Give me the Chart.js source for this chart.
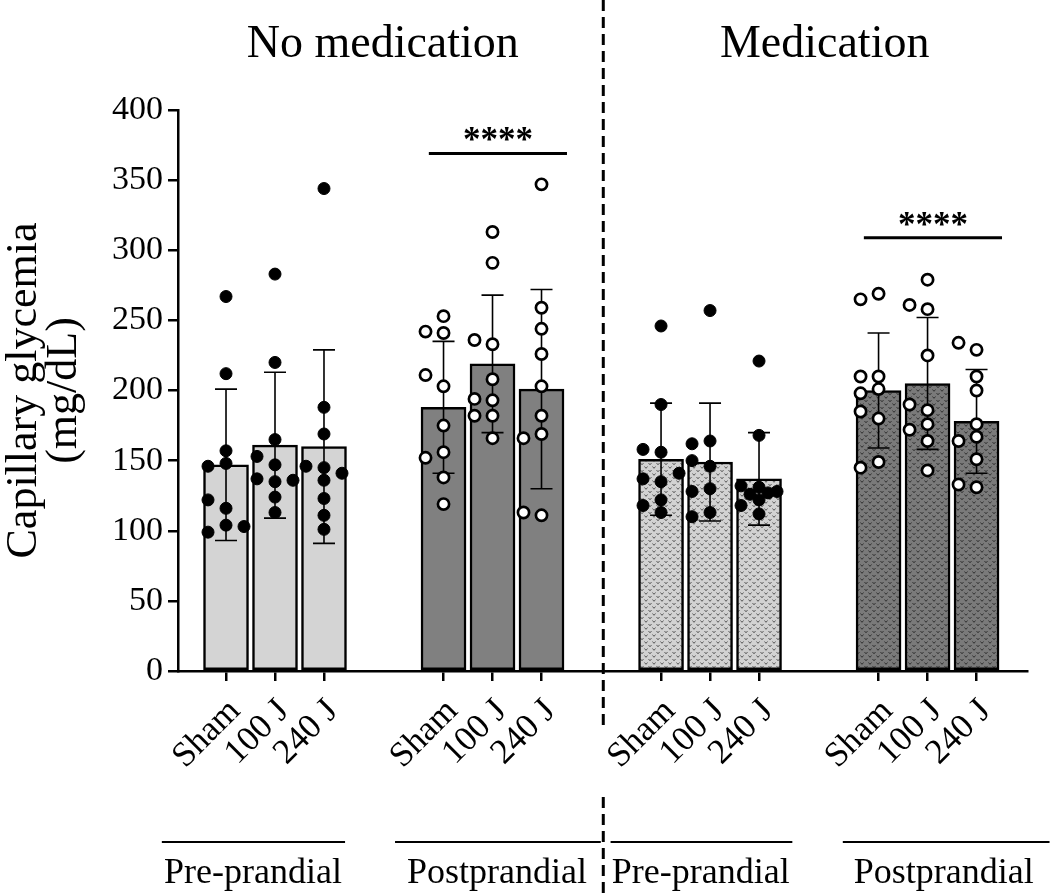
<!DOCTYPE html>
<html lang="en">
<head>
  <meta charset="UTF-8">
  <title>Capillary glycemia</title>
  <script src="https://cdn.jsdelivr.net/npm/chart.js"></script>
  <style>
    body { margin: 0; background: #fff; }
    canvas { display: block; }
  </style>
</head>
<body>
  <canvas id="glyChart" width="1050" height="896"></canvas>

  <script>
    // ---- data ----
    const panels = ['No medication', 'Medication'];
    const moments = ['Pre-prandial', 'Postprandial', 'Pre-prandial', 'Postprandial'];
    const doses = ['Sham', '100 J', '240 J'];
    const yTicks = [0, 50, 100, 150, 200, 250, 300, 350, 400];

    const meanNoMedPre  = [147, 161, 160];
    const sdNoMedPre    = [54, 52, 69];
    const meanNoMedPost = [188, 219, 201];
    const sdNoMedPost   = [47, 49, 71];
    const meanMedPre    = [151, 149, 137];
    const sdMedPre      = [40, 42, 33];
    const meanMedPost   = [200, 205, 178];
    const sdMedPost     = [41, 47, 37];

    // individual animals, one list per bar (Sham, 100 J, 240 J)
    const ptsNoMedPre = [
      [267, 212, 157, 148, 116, 104, 146, 122, 99, 103],
      [283, 220, 165, 147, 135, 124, 113, 153, 137, 136],
      [344, 188, 169, 145, 136, 123, 111, 101, 146, 141]
    ];
    const ptsNoMedPost = [
      [253, 241, 203, 175, 156, 138, 119, 242, 211, 152],
      [313, 291, 233, 208, 193, 166, 236, 194, 182, 182],
      [347, 259, 244, 226, 203, 182, 169, 166, 111, 113]
    ];
    const ptsMedPre = [
      [246, 190, 156, 135, 122, 137, 158, 141, 118, 113],
      [257, 146, 164, 162, 150, 130, 128, 113, 110],
      [221, 168, 131, 122, 132, 128, 126, 127, 118, 112]
    ];
    const ptsMedPost = [
      [269, 210, 201, 180, 265, 210, 198, 185, 149, 145],
      [279, 225, 186, 164, 143, 258, 261, 190, 176, 172],
      [210, 200, 176, 167, 151, 229, 234, 164, 131, 133]
    ];

    const sigGroups = [1, 3];
    const sigLevels = [369, 309];
    const sigText = '****';

    // ---- layout helpers ----
    const GROUP_STEP = 4.44;
    const pos = (g, i) => g * GROUP_STEP + i;
    const FONT = "'Liberation Serif', 'Times New Roman', serif";
    const DOT = 11.5;      // px, min distance between two dots
    const HALF_COL = 9;    // px
    const SLOTS = [0, -2, 2, -1, 1];

    function makePattern(bg, fg) {
      const c = document.createElement('canvas');
      c.width = 8; c.height = 7;
      const g = c.getContext('2d');
      g.fillStyle = bg;
      g.fillRect(0, 0, 8, 7);
      g.strokeStyle = fg;
      g.lineWidth = 1;
      g.beginPath();
      g.moveTo(0.5, 1); g.lineTo(2, 2.8); g.lineTo(3.5, 1);
      g.moveTo(4.5, 4.5); g.lineTo(6, 6.3); g.lineTo(7.5, 4.5);
      g.stroke();
      return g.createPattern(c, 'repeat');
    }

    const groups = [
      { mean: meanNoMedPre,  sd: sdNoMedPre,  pts: ptsNoMedPre,  fill: '#d4d4d4', open: false },
      { mean: meanNoMedPost, sd: sdNoMedPost, pts: ptsNoMedPost, fill: '#808080', open: true },
      { mean: meanMedPre,    sd: sdMedPre,    pts: ptsMedPre,    fill: makePattern('#d2d2d2', '#5a5a5a'), open: false },
      { mean: meanMedPost,   sd: sdMedPost,   pts: ptsMedPost,   fill: makePattern('#7a7a7a', '#333333'), open: true }
    ];

    const tickPositions = [];
    groups.forEach((g, gi) => doses.forEach((d, i) => tickPositions.push(pos(gi, i))));

    const datasets = [];
    groups.forEach((g, gi) => {
      datasets.push({
        type: 'bar',
        data: g.mean.map((m, i) => ({ x: pos(gi, i), y: m })),
        sd: g.sd,
        backgroundColor: g.fill,
        borderColor: '#000',
        borderWidth: 2.5,
        borderSkipped: false,
        barThickness: 45,
        grouped: false,
        order: 2
      });
      g.pts.forEach((vals, i) => {
        datasets.push({
          type: 'scatter',
          data: vals.map(v => ({ x: pos(gi, i), y: v })),
          raw: vals,
          center: pos(gi, i),
          pointStyle: 'circle',
          pointRadius: g.open ? 5.6 : 6,
          pointBorderWidth: g.open ? 2.7 : 1,
          pointBackgroundColor: g.open ? '#fff' : '#000',
          pointBorderColor: '#000',
          showLine: false,
          order: 1
        });
      });
    });

    const errorBars = {
      id: 'errorBars',
      afterDatasetDraw(chart, args) {
        const ds = chart.data.datasets[args.index];
        if (!ds.sd) return;
        const ctx = chart.ctx, ys = chart.scales.y;
        ctx.save();
        ctx.strokeStyle = '#000';
        ctx.lineWidth = 1.6;
        args.meta.data.forEach((bar, i) => {
          const m = ds.data[i].y, s = ds.sd[i];
          const top = ys.getPixelForValue(m + s), bot = ys.getPixelForValue(m - s);
          ctx.beginPath();
          ctx.moveTo(bar.x, top); ctx.lineTo(bar.x, bot);
          ctx.moveTo(bar.x - 11, top); ctx.lineTo(bar.x + 11, top);
          ctx.moveTo(bar.x - 11, bot); ctx.lineTo(bar.x + 11, bot);
          ctx.stroke();
        });
        ctx.restore();
      }
    };

    // group label spans under the axis, in x units relative to the group's first bar
    const labelSpans = [[-1.31, 2.43], [-0.99, 3.21], [-1.03, 2.68], [-0.73, 3.49]];
    const labelCenters = [0.55, 1.09, 0.81, 1.33];

    const decor = {
      id: 'decor',
      afterDraw(chart) {
        const ctx = chart.ctx, xs = chart.scales.x, ys = chart.scales.y;
        ctx.save();
        ctx.fillStyle = '#000';
        ctx.strokeStyle = '#000';

        // panel titles
        ctx.font = `46px ${FONT}`;
        ctx.textAlign = 'center';
        ctx.textBaseline = 'alphabetic';
        ctx.fillText(panels[0], xs.getPixelForValue(pos(0, 2) + 1.2), 57);
        ctx.fillText(panels[1], xs.getPixelForValue(pos(2, 2) + 1.34), 57);

        // divider
        const dx = xs.getPixelForValue((pos(1, 2) + pos(2, 0)) / 2) + 2;
        ctx.lineWidth = 3;
        ctx.setLineDash([11, 6]);
        ctx.beginPath();
        ctx.moveTo(dx, 0); ctx.lineTo(dx, 730);
        ctx.moveTo(dx, 797); ctx.lineTo(dx, 896);
        ctx.stroke();
        ctx.setLineDash([]);

        // significance bars
        sigGroups.forEach((g, k) => {
          const y = ys.getPixelForValue(sigLevels[k]);
          const x0 = xs.getPixelForValue(pos(g, 0) - 0.3);
          const x1 = xs.getPixelForValue(pos(g, 2) + 0.52);
          ctx.lineWidth = 3;
          ctx.beginPath();
          ctx.moveTo(x0, y); ctx.lineTo(x1, y);
          ctx.stroke();
          ctx.font = `bold 35px ${FONT}`;
          ctx.textAlign = 'center';
          ctx.fillText(sigText, (x0 + x1) / 2, y - 2);
        });

        // group labels
        ctx.lineWidth = 2;
        ctx.font = `36px ${FONT}`;
        moments.forEach((m, g) => {
          const x0 = xs.getPixelForValue(pos(g, 0) + labelSpans[g][0]);
          const x1 = xs.getPixelForValue(pos(g, 0) + labelSpans[g][1]);
          ctx.beginPath();
          ctx.moveTo(x0, 842); ctx.lineTo(x1, 842);
          ctx.stroke();
          ctx.fillText(m, xs.getPixelForValue(pos(g, 0) + labelCenters[g]), 883);
        });
        ctx.restore();
      }
    };

    const chart = new Chart(document.getElementById('glyChart'), {
      type: 'bar',
      data: { datasets },
      plugins: [errorBars, decor],
      options: {
        responsive: false,
        animation: false,
        layout: { padding: { left: 0, top: 110, right: 23, bottom: 0 } },
        plugins: { legend: { display: false }, tooltip: { enabled: false } },
        scales: {
          x: {
            type: 'linear',
            offset: false,
            min: -0.98,
            max: 16.35,
            afterFit: s => { s.height = 225; },
            afterBuildTicks: s => { s.ticks = tickPositions.map(v => ({ value: v })); },
            grid: { offset: false, drawOnChartArea: false, tickLength: 10, lineWidth: 2.5, color: '#000' },
            border: { width: 2.5, color: '#000' },
            ticks: {
              autoSkip: false,
              minRotation: 45,
              maxRotation: 45,
              labelOffset: 9,
              padding: 10,
              color: '#000',
              font: { family: FONT, size: 35 },
              callback: (v, i) => doses[i % 3]
            }
          },
          y: {
            min: 0,
            max: 400,
            afterFit: s => { s.width = 178; },
            afterBuildTicks: s => { s.ticks = yTicks.map(v => ({ value: v })); },
            grid: { drawOnChartArea: false, tickLength: 10, lineWidth: 2.5, color: '#000' },
            border: { width: 2.5, color: '#000' },
            ticks: {
              padding: 5,
              color: '#000',
              font: { family: FONT, size: 34 }
            },
            title: {
              display: true,
              text: ['Capillary glycemia', '(mg/dL)'],
              color: '#000',
              padding: { top: 4 },
              font: { family: FONT, size: 44, lineHeight: 0.92 }
            }
          }
        }
      }
    });

    // spread the dots of each bar side by side where they would overlap
    function swarmOffsets(values, ys) {
      const placed = [];
      return values.map(v => {
        const py = ys.getPixelForValue(v);
        let best = 0, bestD = -1;
        for (const k of SLOTS) {
          const px = k * HALF_COL;
          const d = placed.reduce((mn, p) => Math.min(mn, Math.hypot(p.x - px, p.y - py)), Infinity);
          if (d >= DOT) { best = px; break; }
          if (d > bestD) { bestD = d; best = px; }
        }
        placed.push({ x: best, y: py });
        return best;
      });
    }

    const xs = chart.scales.x, ys = chart.scales.y;
    const unitPx = xs.getPixelForValue(1) - xs.getPixelForValue(0);
    chart.data.datasets.forEach(ds => {
      if (!ds.raw) return;
      const offs = swarmOffsets(ds.raw, ys);
      ds.data = ds.raw.map((v, i) => ({ x: ds.center + offs[i] / unitPx, y: v }));
    });
    chart.update('none');
  </script>
</body>
</html>
